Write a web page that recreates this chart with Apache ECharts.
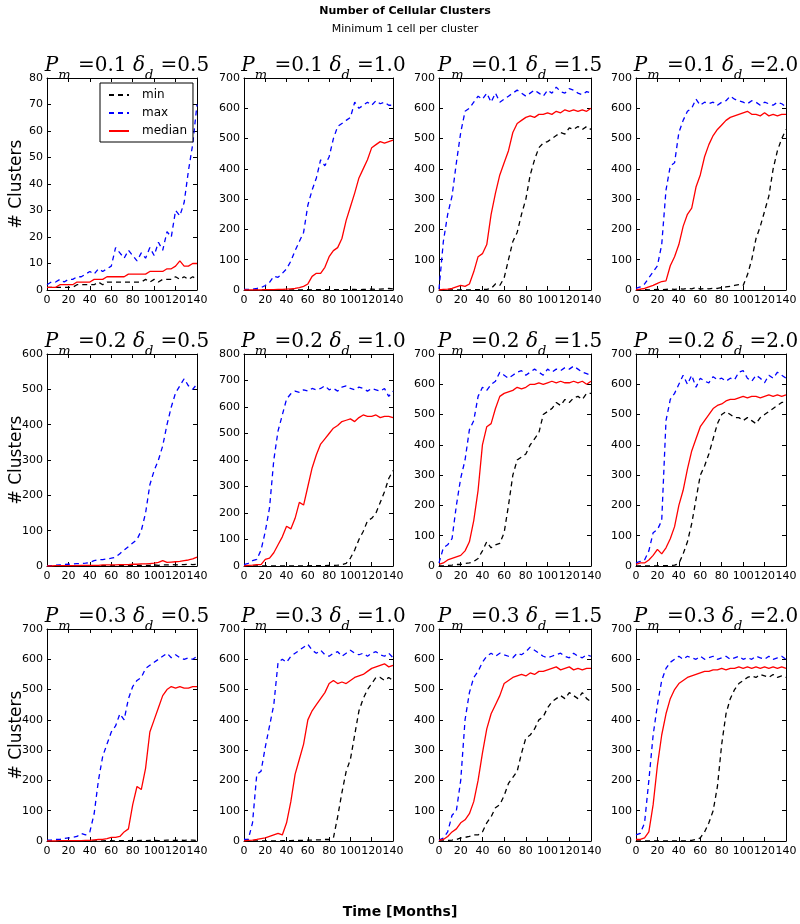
<!DOCTYPE html>
<html>
<head>
<meta charset="utf-8">
<script src="https://cdn.jsdelivr.net/npm/echarts@6/dist/echarts.min.js"></script>
<style>
  html, body { margin: 0; background: #fff; }
  #chart { width: 800px; height: 924px; }
</style>
</head>
<body>
<div id="chart"></div>
<script>
// months sampled every 4
var months = [0,4,8,12,16,20,24,28,32,36,40,44,48,52,56,60,64,68,72,76,80,84,88,92,96,100,104,108,112,116,120,124,128,132,136,140];

var pmVals = ['0.1','0.1','0.1','0.1','0.2','0.2','0.2','0.2','0.3','0.3','0.3','0.3'];
var ddVals = ['0.5','1.0','1.5','2.0','0.5','1.0','1.5','2.0','0.5','1.0','1.5','2.0'];
var yMaxes = [80,700,700,700,600,800,700,700,700,700,700,700];
var ySteps = [10,100,100,100,100,100,100,100,100,100,100,100];
var xTicks = [0,140,20];

// min curve per panel
var minVals = [
  [1,1,1,1,1,1,1,2,2,2,2,2, 3,2,3,3,3,3,3,3,3,3,3,4, 3,4,3,4,4,4,5,4,5,4,5,4],
  [0,0,0,0,0,0,0,0,0,0,0,0, 0,0,0,1,0,1,1,1,1,1,1,1, 1,2,2,1,2,2,3,2,3,4,5,4],
  [0,0,0,0,0,0,0,0,1,1,2,2, 5,20,15,40,100,160,190,250,300,380,430,470, 485,490,500,510,520,515,535,530,540,530,540,530],
  [0,0,1,0,1,2,1,2,3,2,4,3, 5,4,8,3,5,4,6,5,8,10,12,15, 18,15,50,100,170,210,260,310,400,460,500,530],
  [0,0,0,0,0,0,0,0,0,0,0,1, 0,1,1,0,1,1,1,2,1,2,2,2, 2,3,2,3,3,4,3,4,4,5,4,5],
  [0,0,0,0,0,0,0,0,0,0,0,0, 0,0,0,0,1,1,1,1,2,2,3,5, 10,30,60,100,130,170,180,200,240,280,330,360],
  [0,0,2,3,5,5,8,10,15,25,50,80, 60,70,75,110,200,300,350,360,370,400,420,440, 500,510,520,540,530,550,540,555,560,550,570,570],
  [0,0,0,0,0,0,1,1,2,3,8,40, 80,140,220,300,330,370,420,470,500,510,500,490, 490,480,490,480,470,490,500,510,520,530,540,540],
  [0,0,0,0,0,0,0,0,0,0,1,0, 1,0,1,1,0,1,1,1,2,1,2,1, 2,2,1,2,3,2,2,3,2,3,3,2],
  [0,0,0,0,0,0,0,0,0,1,1,1, 2,2,2,3,3,4,4,5,5,10,80,160, 230,270,350,430,470,500,520,540,540,530,540,530],
  [0,0,2,3,5,10,12,15,20,20,30,60, 80,110,120,150,190,210,230,290,340,350,370,400, 410,440,460,470,480,470,490,480,470,490,470,460],
  [0,0,0,0,0,0,0,0,0,0,0,0, 1,2,5,10,30,60,100,180,320,420,470,500, 520,530,540,545,540,550,545,540,550,540,545,540]
];

// max curve per panel
var maxVals = [
  [2,3,3,4,3,4,4,5,5,6,7,6, 8,7,8,9,16,14,12,15,13,11,14,12, 16,13,18,15,22,20,30,28,33,45,55,70],
  [2,2,3,5,8,15,25,45,42,55,70,95, 130,160,190,280,330,370,430,410,440,500,540,550, 560,570,620,600,610,620,610,625,615,620,610,610],
  [2,160,250,310,420,520,590,600,620,640,630,650, 620,650,620,630,640,650,660,650,640,650,660,650, 640,660,650,670,655,650,665,660,650,645,655,650],
  [5,10,20,40,60,80,150,330,410,420,520,560, 590,600,630,610,620,615,620,610,620,625,640,630, 625,620,615,625,620,610,620,615,610,620,615,605],
  [1,1,2,3,4,5,6,7,7,8,10,15, 18,18,20,22,25,35,45,55,65,75,100,150, 230,270,300,340,400,450,490,510,530,510,500,515],
  [5,10,20,25,60,130,220,400,510,570,630,650, 660,655,665,660,670,665,670,680,665,670,660,675, 680,670,665,675,670,660,670,665,660,670,640,660],
  [10,60,70,90,200,290,350,450,480,560,590,580, 600,610,640,630,620,630,640,645,630,640,650,640, 630,650,640,650,645,655,650,660,650,640,635,630],
  [10,15,20,50,110,120,150,480,550,570,600,630, 600,630,590,620,610,605,625,615,620,610,620,615, 640,645,620,610,630,620,605,630,620,640,630,620],
  [3,3,5,5,8,10,12,15,25,20,30,90, 200,280,320,360,380,420,400,470,510,530,540,570, 580,590,600,610,620,605,615,605,600,605,600,610],
  [5,5,60,220,230,310,380,450,590,600,590,610, 620,630,640,650,630,620,630,615,610,620,625,610, 620,630,620,615,620,610,620,625,615,610,620,605],
  [3,10,30,85,100,200,400,490,540,560,590,610, 620,610,620,615,610,605,620,615,625,640,630,620, 610,605,610,615,620,610,605,620,610,605,615,610],
  [20,25,60,200,350,450,530,570,590,600,610,600, 610,605,600,610,600,605,610,600,605,610,600,605, 610,600,605,600,610,605,600,610,600,605,610,600]
];

// median curve per panel
var medVals = [
  [1,1,1,2,2,2,2,3,3,3,3,4, 4,4,5,5,5,5,5,6,6,6,6,6, 7,7,7,7,8,8,9,11,9,9,10,10],
  [0,0,0,0,0,1,1,1,2,2,3,4, 5,8,12,20,45,55,55,75,110,130,140,170, 230,275,320,370,400,430,470,480,490,485,490,495],
  [0,2,3,5,10,15,12,20,60,110,120,150, 250,320,380,420,460,520,550,560,570,575,570,580, 580,585,580,590,585,595,590,595,590,595,590,600],
  [0,3,5,10,15,22,28,30,80,110,150,210, 250,270,340,380,440,480,510,530,545,560,570,575, 580,585,590,580,580,575,585,575,580,575,580,580],
  [0,0,1,1,1,1,1,1,2,2,2,2, 2,3,3,3,3,4,4,4,5,5,6,6, 7,8,10,15,10,11,12,13,15,17,20,25],
  [0,2,3,5,5,25,30,50,80,110,150,140, 180,240,230,300,370,420,460,480,500,520,530,545, 550,555,545,560,570,565,565,570,560,565,565,560],
  [5,10,20,25,30,35,50,80,150,250,400,460, 470,520,560,570,575,580,590,585,590,600,600,605, 600,605,610,605,610,605,605,610,605,610,600,610],
  [5,10,10,20,35,55,40,60,90,130,200,250, 320,380,420,460,480,500,520,530,535,545,550,550, 555,560,555,560,560,555,560,565,560,565,560,565],
  [0,0,0,1,1,1,1,1,1,2,2,4, 5,5,8,12,12,15,30,40,120,180,170,240, 360,400,440,480,500,510,505,510,505,505,510,510],
  [0,2,3,5,8,10,15,20,25,20,60,130, 220,270,320,400,430,450,470,490,520,530,520,525, 520,530,540,545,550,560,570,575,580,585,575,580],
  [2,5,15,30,40,60,70,90,130,200,290,370, 420,450,480,520,530,540,545,550,545,555,550,560, 560,565,570,575,565,570,575,565,570,565,570,570],
  [5,5,10,30,120,250,350,420,470,500,520,530, 540,545,550,555,560,560,565,565,570,565,570,570, 575,570,575,570,575,570,575,570,575,570,575,570]
];

var colLeft = [47, 244, 439, 636];
var colWidth = [150, 149, 152, 150];
var rowTop = [78, 354, 629];
var rowHeight = 212;

var tickFont = 'DejaVu Sans';
var grids = [], xAxes = [], yAxes = [], series = [], titles = [];

function pairs(vals) {
  return months.map(function (m, k) { return [m, vals[k]]; });
}

for (var i = 0; i < 12; i++) {
  var r = Math.floor(i / 4), c = i % 4;
  grids.push({ left: colLeft[c], top: rowTop[r], width: colWidth[c], height: rowHeight });

  var tick = { show: true, inside: true, length: 4, lineStyle: { color: '#000', width: 1 } };
  var line = { show: true, onZero: false, lineStyle: { color: '#000', width: 1 } };

  xAxes.push({
    type: 'value', gridIndex: i, position: 'bottom', min: xTicks[0], max: xTicks[1], interval: xTicks[2],
    axisLine: line, axisTick: tick, splitLine: { show: false },
    axisLabel: { color: '#000', fontSize: 11, fontFamily: tickFont, margin: 5 }
  });
  xAxes.push({
    type: 'value', gridIndex: i, position: 'top', min: xTicks[0], max: xTicks[1], interval: xTicks[2],
    axisLine: line, axisTick: tick, splitLine: { show: false }, axisLabel: { show: false }
  });
  yAxes.push({
    type: 'value', gridIndex: i, position: 'left', min: 0, max: yMaxes[i], interval: ySteps[i],
    axisLine: line, axisTick: tick, splitLine: { show: false },
    axisLabel: { color: '#000', fontSize: 11, fontFamily: tickFont, margin: 4 }
  });
  yAxes.push({
    type: 'value', gridIndex: i, position: 'right', min: 0, max: yMaxes[i], interval: ySteps[i],
    axisLine: line, axisTick: tick, splitLine: { show: false }, axisLabel: { show: false }
  });

  series.push({
    name: 'min', type: 'line', xAxisIndex: 2 * i, yAxisIndex: 2 * i, data: pairs(minVals[i]),
    symbol: 'none', lineStyle: { color: '#000000', width: 1.3, type: [5, 4] }, itemStyle: { color: '#000000' }, z: 2
  });
  series.push({
    name: 'max', type: 'line', xAxisIndex: 2 * i, yAxisIndex: 2 * i, data: pairs(maxVals[i]),
    symbol: 'none', lineStyle: { color: '#0000ff', width: 1.3, type: [5, 4] }, itemStyle: { color: '#0000ff' }, z: 3
  });
  series.push({
    name: 'median', type: 'line', xAxisIndex: 2 * i, yAxisIndex: 2 * i, data: pairs(medVals[i]),
    symbol: 'none', lineStyle: { color: '#ff0000', width: 1.3 }, itemStyle: { color: '#ff0000' }, z: 4
  });

  titles.push({
    text: '{i|P}{s|m}{n| =' + pmVals[i] + ' }{i|δ}{s|d}{n| =' + ddVals[i] + '}',
    left: colLeft[c] + colWidth[c] / 2, textAlign: 'center', top: rowTop[r] - 27,
    textStyle: {
      fontWeight: 'normal',
      rich: {
        i: { fontFamily: 'DejaVu Serif', fontStyle: 'italic', fontWeight: 'normal', fontSize: 20, color: '#000', verticalAlign: 'bottom', padding: [0, 0, 6, 0] },
        n: { fontFamily: 'DejaVu Serif', fontWeight: 'normal', fontSize: 20, color: '#000', verticalAlign: 'bottom', padding: [0, 0, 6, 0] },
        s: { fontFamily: 'DejaVu Serif', fontStyle: 'italic', fontWeight: 'normal', fontSize: 13, color: '#000', verticalAlign: 'bottom', padding: [0, 1, 0, 0] }
      }
    }
  });
}

titles.push({
  text: 'Number of Cellular Clusters', left: 400, textAlign: 'center', top: 1,
  textStyle: { fontFamily: 'DejaVu Sans', fontWeight: 'bold', fontSize: 11, color: '#000' }
});
titles.push({
  text: 'Minimum 1 cell per cluster', left: 400, textAlign: 'center', top: 19,
  textStyle: { fontFamily: 'DejaVu Sans', fontWeight: 'normal', fontSize: 11, color: '#000' }
});

var graphics = [];
rowTop.forEach(function (t) {
  graphics.push({
    type: 'text', x: 17, y: t + rowHeight / 2, rotation: Math.PI / 2,
    style: { text: '# Clusters', align: 'center', verticalAlign: 'middle', fontSize: 17, fontFamily: 'DejaVu Sans', fill: '#000' }
  });
});
graphics.push({
  type: 'text', x: 400, y: 912,
  style: { text: 'Time [Months]', align: 'center', verticalAlign: 'middle', fontSize: 14, fontWeight: 'bold', fontFamily: 'DejaVu Sans', fill: '#000' }
});

var chart = echarts.init(document.getElementById('chart'), null, { renderer: 'canvas' });
chart.setOption({
  animation: false,
  backgroundColor: '#ffffff',
  title: titles,
  grid: grids,
  xAxis: xAxes,
  yAxis: yAxes,
  series: series,
  graphic: graphics,
  legend: {
    data: ['min', 'max', 'median'],
    orient: 'vertical', left: 100, top: 83,
    backgroundColor: '#ffffff', borderColor: '#000', borderWidth: 1, borderRadius: 0,
    padding: [6, 6, 5, 8], itemWidth: 20, itemHeight: 12, itemGap: 6,
    itemStyle: { opacity: 0, borderWidth: 0 },
    textStyle: { color: '#000', fontSize: 12, fontFamily: 'DejaVu Sans', padding: [0, 0, 0, 8] }
  }
});
</script>
</body>
</html>
